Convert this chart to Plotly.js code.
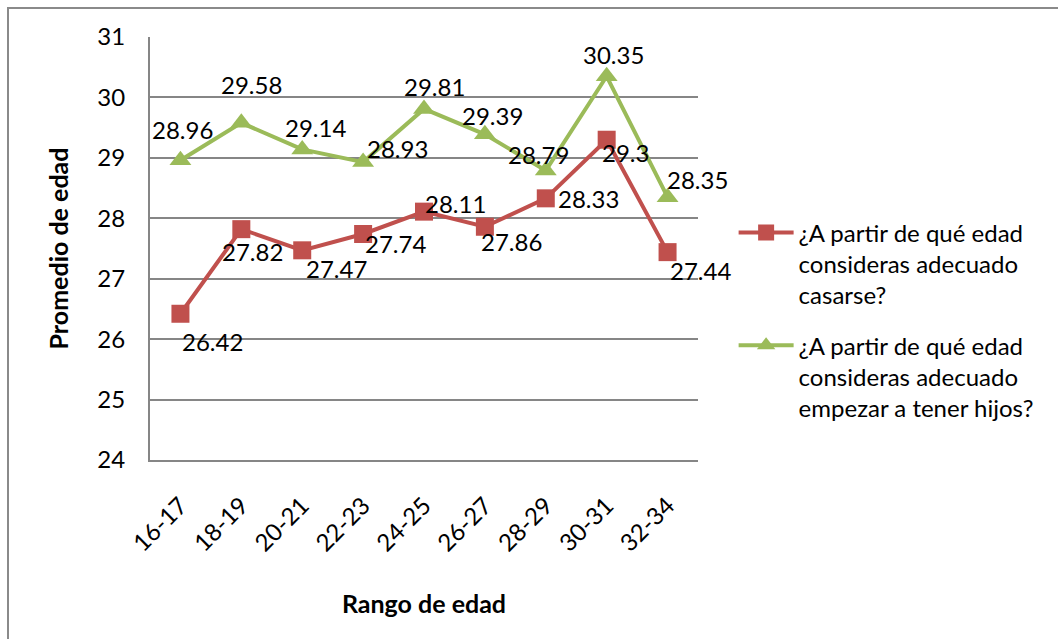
<!DOCTYPE html>
<html>
<head>
<meta charset="utf-8">
<script src="https://cdn.plot.ly/plotly-3.0.1.min.js"></script>
<style>
  html, body { margin: 0; padding: 0; background: #fff; }
  #wrap { position: relative; width: 1058px; height: 639px; overflow: hidden; }
  #chart { position: absolute; left: 0; top: 0; width: 1058px; height: 639px; }
  #frame { position: absolute; left: 7px; top: 7px; width: 1100px; height: 700px;
           border-left: 2px solid #8a8a8a; border-top: 2px solid #8a8a8a; pointer-events: none; }
</style>
</head>
<body>
<div id="wrap">
  <div id="chart"></div>
  <div id="frame"></div>
</div>
<script>
const categories = ["16-17", "18-19", "20-21", "22-23", "24-25", "26-27", "28-29", "30-31", "32-34"];
const casarse = [26.42, 27.82, 27.47, 27.74, 28.11, 27.86, 28.33, 29.3, 27.44];
const hijos = [28.96, 29.58, 29.14, 28.93, 29.81, 29.39, 28.79, 30.35, 28.35];
const seriesNames = [
  "¿A partir de qué edad<br>consideras adecuado<br>casarse?",
  "¿A partir de qué edad<br>consideras adecuado<br>empezar a tener hijos?"
];
const yTitle = "Promedio de edad";
const xTitle = "Rango de edad";

const FONT = "Lato, 'Open Sans', sans-serif";
const RED = "#C0504D";
const GREEN = "#9BBB59";
const FS = 24;

// label offsets in screen pixels (dx right, dy down)
const redOff = [[32,28],[11,22],[34,18],[32,9],[31,-8],[27,15],[43,0],[19,13],[33,18]];
const greenOff = [[2,-31],[10,-38],[13,-22],[34,-14],[10,-22],[8,-19],[-7,-16],[7,-22],[30,-18]];

const traces = [
  {
    x: categories, y: casarse, name: seriesNames[0], type: "scatter", mode: "lines+markers",
    legendgroup: "a",
    line: { color: RED, width: 4 },
    marker: { symbol: "square", size: 18, color: RED }
  },
  {
    x: categories, y: hijos, name: seriesNames[1], type: "scatter", mode: "lines+markers",
    legendgroup: "b",
    line: { color: GREEN, width: 4 },
    marker: { symbol: "triangle-up", size: 19, color: GREEN }
  }
];

const annotations = [];
function addLabels(vals, offs) {
  vals.forEach((v, i) => {
    annotations.push({
      x: categories[i], y: v, xref: "x", yref: "y", text: String(v), showarrow: false,
      xshift: offs[i][0], yshift: -offs[i][1],
      font: { family: FONT, size: FS, color: "#000" }
    });
  });
}
addLabels(casarse, redOff);
addLabels(hijos, greenOff);

const layout = {
  width: 1058, height: 639,
  margin: { l: 150, r: 360, t: 37, b: 179 },
  paper_bgcolor: "#fff", plot_bgcolor: "#fff",
  font: { family: FONT, size: FS, color: "#000" },
  showlegend: true,
  legend: {
    x: 1.065, y: 0.59, xanchor: "left", yanchor: "top",
    valign: "top", font: { family: FONT, size: FS, color: "#000" },
    bgcolor: "rgba(0,0,0,0)", traceorder: "grouped", tracegroupgap: 16, itemwidth: 55
  },
  xaxis: {
    type: "category", tickangle: -45, showgrid: false, zeroline: false,
    showline: true, linecolor: "#868686", linewidth: 2,
    ticks: "", ticklabelstandoff: 20,
    tickfont: { family: FONT, size: FS, color: "#000" },
    range: [-0.5, 8.5],
    title: { text: xTitle, font: { family: FONT, size: 25, color: "#000", weight: "bold" }, standoff: 40 }
  },
  yaxis: {
    range: [24, 31], dtick: 1, showgrid: true, gridcolor: "#868686", gridwidth: 2,
    zeroline: false, showline: true, linecolor: "#868686", linewidth: 2, ticks: "",
    ticklabelstandoff: 18,
    tickfont: { family: FONT, size: FS, color: "#000" },
    title: { text: yTitle, font: { family: FONT, size: 25, color: "#000", weight: "bold" }, standoff: 22 }
  },
  annotations: annotations
};

Plotly.newPlot("chart", traces, layout, { displayModeBar: false, staticPlot: true });
</script>
</body>
</html>
